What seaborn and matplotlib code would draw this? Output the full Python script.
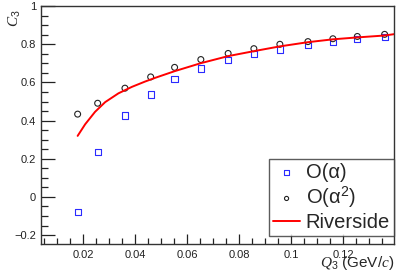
import matplotlib
matplotlib.use("Agg")
import matplotlib.pyplot as plt
import matplotlib.ticker as ticker
import numpy as np
import pandas as pd
import seaborn as sns

# C3 vs Q3 values
q3 = [0.0178, 0.0255, 0.036, 0.0459, 0.0551, 0.0652, 0.0757, 0.0856, 0.0956, 0.1064, 0.116, 0.1254, 0.1359]
c3_alpha = [-0.08, 0.237, 0.427, 0.537, 0.617, 0.673, 0.718, 0.749, 0.773, 0.796, 0.811, 0.826, 0.838]
c3_alpha2 = [0.434, 0.491, 0.57, 0.629, 0.679, 0.72, 0.752, 0.777, 0.8, 0.814, 0.829, 0.841, 0.852]
riv_q3 = [0.0178, 0.0207, 0.0245, 0.0284, 0.0335, 0.0387, 0.0438, 0.0478, 0.0551,
          0.0652, 0.0757, 0.0856, 0.0956, 0.1064, 0.116, 0.1254, 0.1359, 0.1395]
riv_c3 = [0.32, 0.381, 0.446, 0.497, 0.543, 0.577, 0.605, 0.625, 0.659,
          0.701, 0.738, 0.764, 0.789, 0.811, 0.826, 0.836, 0.846, 0.853]

sns.set_theme(style="ticks")
plt.rcParams['font.family'] = ['Liberation Sans', 'DejaVu Sans']
plt.rcParams['mathtext.fontset'] = 'custom'
plt.rcParams['mathtext.rm'] = 'Liberation Sans'
plt.rcParams['mathtext.it'] = 'Liberation Serif:italic'

df1 = pd.DataFrame({"q3": q3, "c3": c3_alpha})
df2 = pd.DataFrame({"q3": q3, "c3": c3_alpha2})
dfr = pd.DataFrame({"q3": riv_q3, "c3": riv_c3})

fig, ax = plt.subplots(figsize=(4.07, 2.78), dpi=100)
fig.subplots_adjust(left=0.1007, right=0.968, top=0.978, bottom=0.122)

sns.scatterplot(data=df1, x="q3", y="c3", ax=ax, marker="s", s=20,
                facecolor="none", edgecolor="#2a2aff", linewidth=0.8, label="O(α)")
sns.scatterplot(data=df2, x="q3", y="c3", ax=ax, marker="o", s=18,
                facecolor="none", edgecolor="#222222", linewidth=0.8, label=r"O(α$^{\mathrm{2}}$)")
sns.lineplot(data=dfr, x="q3", y="c3", ax=ax, color="#ff0000", linewidth=1.4, label="Riverside")

ax.set_xlim(0.0037, 0.1395)
ax.set_ylim(-0.247, 1.0)
ax.xaxis.set_major_locator(ticker.MultipleLocator(0.02))
ax.xaxis.set_minor_locator(ticker.MultipleLocator(0.005))
ax.yaxis.set_major_locator(ticker.MultipleLocator(0.2))
ax.yaxis.set_minor_locator(ticker.MultipleLocator(0.05))
ax.xaxis.set_major_formatter(ticker.FormatStrFormatter('%g'))
ax.yaxis.set_major_formatter(ticker.FuncFormatter(lambda v, p: ('%g' % round(v, 3)).replace('-', '\u2212')))
ax.tick_params(which='both', direction='in', top=False, right=False, labelsize=8, colors='#222222')
ax.tick_params(axis='y', which='major', length=10, width=0.9)
ax.tick_params(axis='y', which='minor', length=5, width=0.9)
ax.tick_params(axis='x', which='major', length=7, width=0.9, pad=4)
ax.tick_params(axis='x', which='minor', length=4, width=0.9)
for s in ax.spines.values():
    s.set_color('#333333')
    s.set_linewidth(1.0)

ax.set_xlabel(r"$\mathit{Q}_{\mathrm{3}}$ (GeV/$\mathit{c}$)", fontsize=11, loc='right', labelpad=-4)
ax.set_ylabel(r"$\mathit{C}_{\mathrm{3}}$", fontsize=11, loc='top')
ax.yaxis.set_label_coords(-0.05, 0.985)

leg = ax.legend(loc='lower right', bbox_to_anchor=(1.0, 0.034), borderaxespad=0,
                fontsize=14.5, frameon=True, fancybox=False, edgecolor='#333333',
                handlelength=1.3, handletextpad=0.3, labelspacing=0.15, borderpad=0.2,
                markerscale=0.7)
leg.get_frame().set_linewidth(1.0)

plt.savefig("out.png", dpi=100)
